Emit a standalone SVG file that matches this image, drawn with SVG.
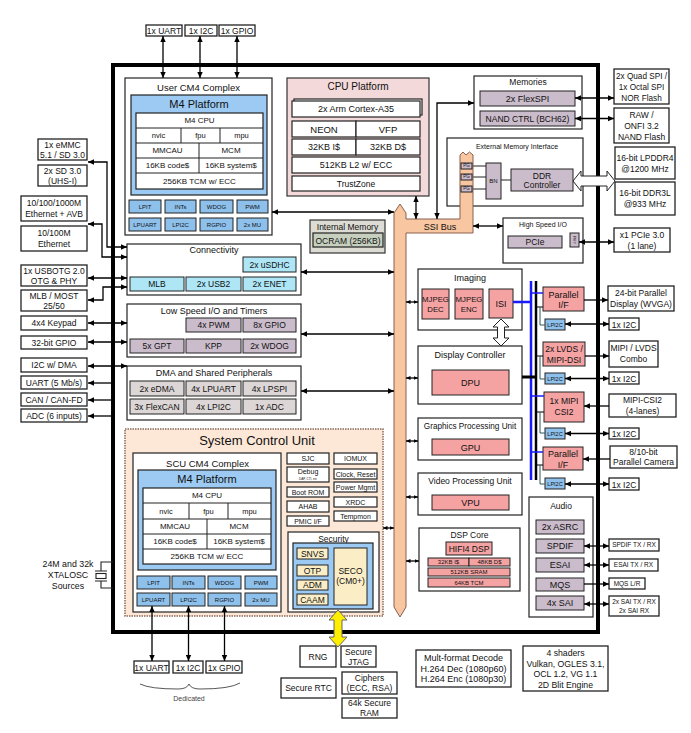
<svg xmlns="http://www.w3.org/2000/svg" width="691" height="733" viewBox="0 0 691 733">
<defs>
<style>
text{font-family:"Liberation Sans",Arial,sans-serif;fill:#111;text-anchor:middle;font-size:8.5px}
.bx{fill:#fff;stroke:#222;stroke-width:1.2}
.ex{fill:#fff;stroke:#222;stroke-width:1.3}
.bl{fill:#9ccaf2;stroke:#222;stroke-width:1.2}
.sb{fill:#8ec0ec;stroke:#222;stroke-width:1}
.cy{fill:#aee6f6;stroke:#222;stroke-width:1}
.mv{fill:#cbbccb;stroke:#222;stroke-width:1}
.gr{fill:#dcd6d6;stroke:#222;stroke-width:1}
.sa{fill:#f5a2a2;stroke:#222;stroke-width:1}
.ye{fill:#fbeec6;stroke:#222;stroke-width:1}
.ln{stroke:#222;stroke-width:1}
.f3{font-size:3px}.f5{font-size:5.5px}.f6{font-size:6px}.f65{font-size:6.5px}.f7{font-size:7px}.f75{font-size:7.5px}.f8{font-size:8px}.f9{font-size:9px}.f95{font-size:9.5px}.f10{font-size:10px}.f11{font-size:11px}.f13{font-size:13px}
.c line,.c polyline{fill:none;stroke:#000;stroke-width:1.3}
.d{marker-start:url(#ah);marker-end:url(#ah)}
.e{marker-end:url(#ah)}
.st{marker-start:url(#ah)}
.ds{marker-start:url(#as);marker-end:url(#as)}
</style>
<marker id="ah" viewBox="0 0 10 10" refX="10" refY="5" markerWidth="6" markerHeight="6" markerUnits="userSpaceOnUse" orient="auto-start-reverse"><path d="M0,0.5 L10,5 L0,9.5 Z" fill="#000"/></marker>
<marker id="as" viewBox="0 0 10 10" refX="10" refY="5" markerWidth="4.5" markerHeight="4.5" markerUnits="userSpaceOnUse" orient="auto-start-reverse"><path d="M0,0.5 L10,5 L0,9.5 Z" fill="#000"/></marker>
</defs>
<rect width="691" height="733" fill="#fff"/>

<g id="chip"><rect x="113" y="65" width="485" height="567" fill="none" stroke="#000" stroke-width="4"/></g>

<!-- top external -->
<g id="ext-top-uart"><rect class="ex" x="146" y="25" width="36" height="11"/><text x="164" y="33.5">1x UART</text></g>
<g id="ext-top-i2c"><rect class="ex" x="185" y="25" width="32" height="11"/><text x="201" y="33.5">1x I2C</text></g>
<g id="ext-top-gpio"><rect class="ex" x="219" y="25" width="36" height="11"/><text x="237" y="33.5">1x GPIO</text></g>

<!-- User CM4 -->
<g id="user-cm4">
<rect class="bx" x="125" y="78" width="147" height="157"/>
<text class="f95" x="198.5" y="90.5">User CM4 Complex</text>
<rect class="bl" x="131" y="95" width="136" height="100"/>
<text class="f11" x="199" y="108">M4 Platform</text>
<rect class="bx" x="136" y="113" width="127" height="76"/>
<path class="ln" d="M136,128H263M136,143H263M136,158H263M136,173H263M181,128V143M220,128V143M199,143V173" fill="none"/>
<text class="f8" x="199.5" y="123.3">M4 CPU</text>
<text class="f75" x="158.5" y="138.3">nvic</text><text class="f75" x="200.5" y="138.3">fpu</text><text class="f75" x="241.5" y="138.3">mpu</text>
<text class="f8" x="167.5" y="153.3">MMCAU</text><text class="f8" x="231" y="153.3">MCM</text>
<text class="f8" x="167.5" y="168.3">16KB code$</text><text class="f8" x="231" y="168.3">16KB system$</text>
<text class="f8" x="199.5" y="183.8">256KB TCM w/ ECC</text>
<rect class="sb" x="129" y="200" width="32" height="13"/><text class="f6" x="145" y="208.6">LPIT</text>
<rect class="sb" x="165" y="200" width="31" height="13"/><text class="f6" x="180.5" y="208.6">INTs</text>
<rect class="sb" x="200" y="200" width="33" height="13"/><text class="f6" x="216.5" y="208.6">WDOG</text>
<rect class="sb" x="237" y="200" width="31" height="13"/><text class="f6" x="252.5" y="208.6">PWM</text>
<rect class="sb" x="129" y="218" width="32" height="13"/><text class="f6" x="145" y="226.6">LPUART</text>
<rect class="sb" x="165" y="218" width="31" height="13"/><text class="f6" x="180.5" y="226.6">LPI2C</text>
<rect class="sb" x="200" y="218" width="33" height="13"/><text class="f6" x="216.5" y="226.6">RGPIO</text>
<rect class="sb" x="237" y="218" width="31" height="13"/><text class="f6" x="252.5" y="226.6">2x MU</text>
</g>

<!-- CPU Platform -->
<g id="cpu-platform">
<rect x="287" y="78" width="142" height="118" fill="#f3d9d9" stroke="#333" stroke-width="1.2"/>
<text class="f10" x="358" y="90">CPU Platform</text>
<rect class="bx" x="294" y="99" width="128" height="16"/>
<rect class="bx" x="292" y="101" width="128" height="16"/>
<text class="f9" x="356" y="112">2x Arm Cortex-A35</text>
<rect class="bx" x="292" y="121" width="64" height="16"/><rect class="bx" x="356" y="121" width="64" height="16"/>
<text class="f95" x="324" y="132.5">NEON</text><text class="f95" x="388" y="132.5">VFP</text>
<rect class="bx" x="292" y="139" width="64" height="16"/><rect class="bx" x="356" y="139" width="64" height="16"/>
<text class="f9" x="324" y="150">32KB I$</text><text class="f9" x="388" y="150">32KB D$</text>
<rect class="bx" x="292" y="157" width="128" height="16"/><text class="f9" x="356" y="168">512KB L2 w/ ECC</text>
<rect class="bx" x="292" y="176" width="128" height="15"/><text x="356" y="186.5">TrustZone</text>
</g>

<!-- Memories -->
<g id="memories">
<rect class="bx" x="474" y="76" width="108" height="53"/>
<text x="528" y="85">Memories</text>
<rect class="mv" x="480" y="91" width="95" height="15"/><text class="f9" x="527.5" y="101.5">2x FlexSPI</text>
<rect class="mv" x="480" y="111" width="95" height="15"/><text x="527.5" y="121.5">NAND CTRL (BCH62)</text>
</g>

<!-- right external memory -->
<g id="ext-nor"><rect class="ex" x="614" y="69" width="55" height="35"/><text style="font-size:8.2px" x="641.5" y="78.5">2x Quad SPI /</text><text style="font-size:8.2px" x="641.5" y="89.5">1x Octal SPI</text><text style="font-size:8.2px" x="641.5" y="100.5">NOR Flash</text></g>
<g id="ext-nand"><rect class="ex" x="614" y="108" width="55" height="35"/><text x="641.5" y="117.5">RAW /</text><text x="641.5" y="128.5">ONFI 3.2</text><text x="641.5" y="139.5">NAND Flash</text></g>
<g id="ext-lpddr4"><rect class="ex" x="615" y="147" width="60" height="32"/><text x="645" y="160.5">16-bit LPDDR4</text><text x="645" y="171.5">@1200 MHz</text></g>
<g id="ext-ddr3l"><rect class="ex" x="615" y="182" width="60" height="33"/><text x="645" y="196">16-bit DDR3L</text><text x="645" y="207">@933 MHz</text></g>
<g id="ext-pcie"><rect class="ex" x="614" y="228" width="56" height="24"/><text x="642" y="237.5">x1 PCIe 3.0</text><text x="642" y="248.5">(1 lane)</text></g>

<!-- External Memory Interface -->
<g id="emi">
<rect class="bx" x="447" y="138" width="136" height="68"/>
<text class="f7" x="517" y="148.5">External Memory Interface</text>
<rect class="mv" x="486" y="163" width="15" height="36"/><text class="f6" x="493.5" y="183">BN</text>
<rect class="mv" x="511" y="169" width="62" height="22"/><text x="542" y="178.5">DDR</text><text x="542" y="188">Controller</text>
<path class="ln" d="M472,166H486M472,177H486M472,189H486M501,180H511" fill="none"/>
</g>

<!-- SSI bus -->
<g id="ssi-bus">
<path d="M394,213 L400,204 L406,213 L406,219 L460,219 L460,155 L463,152 L466,155 L469.5,152 L473,155 L473,233 L406,233 L406,607 L400,617 L394,607 Z" fill="#f8c6a0" stroke="#8a6050" stroke-width="1"/>
<text class="f9" x="440" y="229.5">SSI Bus</text>
<rect class="mv" x="461" y="163" width="11" height="6"/><text class="f3" x="466.5" y="167.2" style="font-size:4.5px">PG</text>
<rect class="mv" x="461" y="174" width="11" height="6"/><text x="466.5" y="178.2" style="font-size:4.5px">PG</text>
<rect class="mv" x="461" y="186" width="11" height="6"/><text x="466.5" y="190.2" style="font-size:4.5px">PG</text>
</g>

<!-- High speed IO -->
<g id="hsio">
<rect class="bx" x="503" y="218" width="80" height="45"/>
<text class="f7" x="543" y="226.5">High Speed I/O</text>
<rect class="mv" x="508" y="236" width="54" height="12"/><text x="535" y="245">PCIe</text>
<rect class="mv" x="570" y="233" width="9" height="14"/><text transform="translate(573.2,240) rotate(90)" style="font-size:4px">PHY</text>
</g>

<!-- Internal memory -->
<g id="internal-memory">
<rect x="310" y="220" width="75" height="33" fill="#dcdcd4" stroke="#333" stroke-width="1.2"/>
<text x="347.5" y="230">Internal Memory</text>
<rect x="313" y="233" width="70" height="14" fill="#c7d0bf" stroke="#222" stroke-width="1.2"/>
<text x="348" y="243.5">OCRAM (256KB)</text>
</g>

<!-- left external -->
<g id="ext-emmc"><rect class="ex" x="38" y="139" width="49" height="21"/><text x="62.5" y="147.5">1x eMMC</text><text x="62.5" y="157.5">5.1 / SD 3.0</text></g>
<g id="ext-sd"><rect class="ex" x="38" y="165" width="49" height="21"/><text x="62.5" y="173.5">2x SD 3.0</text><text x="62.5" y="183.5">(UHS-I)</text></g>
<g id="ext-eth-avb"><rect class="ex" x="21" y="196" width="66" height="25"/><text x="54" y="205.5">10/100/1000M</text><text x="54" y="217">Ethernet + AVB</text></g>
<g id="ext-eth"><rect class="ex" x="21" y="226" width="66" height="25"/><text x="54" y="235.5">10/100M</text><text x="54" y="247">Ethernet</text></g>
<g id="ext-usb"><rect class="ex" x="21" y="265" width="66" height="21"/><text x="54" y="273.5">1x USBOTG 2.0</text><text x="54" y="283.5">OTG &amp; PHY</text></g>
<g id="ext-mlb"><rect class="ex" x="21" y="290" width="66" height="21"/><text x="54" y="298.5">MLB / MOST</text><text x="54" y="308.5">25/50</text></g>
<g id="ext-keypad"><rect class="ex" x="21" y="316" width="66" height="14"/><text x="54" y="326">4x4 Keypad</text></g>
<g id="ext-gpio"><rect class="ex" x="21" y="336" width="66" height="13"/><text x="54" y="345.5">32-bit GPIO</text></g>
<g id="ext-i2c"><rect class="ex" x="21" y="358" width="66" height="14"/><text x="54" y="368">I2C w/ DMA</text></g>
<g id="ext-uart"><rect class="ex" x="21" y="376" width="66" height="13"/><text x="54" y="385.5">UART (5 Mb/s)</text></g>
<g id="ext-can"><rect class="ex" x="21" y="393" width="66" height="13"/><text x="54" y="402.5">CAN / CAN-FD</text></g>
<g id="ext-adc"><rect class="ex" x="21" y="409" width="66" height="13"/><text x="54" y="418.5">ADC (6 inputs)</text></g>

<!-- Connectivity -->
<g id="connectivity">
<rect class="bx" x="127" y="244" width="174" height="51"/>
<text class="f9" x="214" y="252.5">Connectivity</text>
<rect class="cy" x="243" y="257" width="53" height="15"/><text x="269.5" y="267.5">2x uSDHC</text>
<rect class="cy" x="130" y="277" width="54" height="14"/><text x="157" y="287">MLB</text>
<rect class="cy" x="186" y="277" width="55" height="14"/><text x="213.5" y="287">2x USB2</text>
<rect class="cy" x="243" y="277" width="53" height="14"/><text x="269.5" y="287">2x ENET</text>
</g>

<!-- Low speed -->
<g id="low-speed">
<rect class="bx" x="127" y="304" width="174" height="53"/>
<text class="f9" x="214" y="313.5">Low Speed I/O and Timers</text>
<rect class="mv" x="186" y="318" width="55" height="14"/><text x="213.5" y="328">4x PWM</text>
<rect class="mv" x="243" y="318" width="53" height="14"/><text x="269.5" y="328">8x GPIO</text>
<rect class="mv" x="130" y="339" width="54" height="14"/><text x="157" y="349">5x GPT</text>
<rect class="mv" x="186" y="339" width="55" height="14"/><text x="213.5" y="349">KPP</text>
<rect class="mv" x="243" y="339" width="53" height="14"/><text x="269.5" y="349">2x WDOG</text>
</g>

<!-- DMA -->
<g id="dma-shared">
<rect class="bx" x="127" y="366" width="174" height="54"/>
<text class="f9" x="214" y="376">DMA and Shared Peripherals</text>
<rect class="gr" x="130" y="381" width="54" height="15"/><text x="157" y="391.5">2x eDMA</text>
<rect class="gr" x="186" y="381" width="55" height="15"/><text x="213.5" y="391.5">4x LPUART</text>
<rect class="gr" x="243" y="381" width="53" height="15"/><text x="269.5" y="391.5">4x LPSPI</text>
<rect class="gr" x="130" y="399" width="54" height="15"/><text x="157" y="409.5">3x FlexCAN</text>
<rect class="gr" x="186" y="399" width="55" height="15"/><text x="213.5" y="409.5">4x LPI2C</text>
<rect class="gr" x="243" y="399" width="53" height="15"/><text x="269.5" y="409.5">1x ADC</text>
</g>

<!-- SCU -->
<g id="scu">
<rect x="125" y="429" width="258" height="187" fill="#fde8d8" stroke="#8a6a5a" stroke-width="1.5" stroke-dasharray="1.5,1"/>
<text class="f13" x="257" y="444.5">System Control Unit</text>
</g>
<g id="scu-cm4">
<rect class="bx" x="133" y="453" width="148" height="159"/>
<text class="f95" x="207.5" y="466.5">SCU CM4 Complex</text>
<rect class="bl" x="138" y="470" width="138" height="100"/>
<text class="f11" x="207" y="483">M4 Platform</text>
<rect class="bx" x="143" y="488" width="128" height="76"/>
<path class="ln" d="M143,503H271M143,519H271M143,534H271M143,549H271M189,503V519M228,503V519M207,519V549" fill="none"/>
<text class="f8" x="207" y="498.3">M4 CPU</text>
<text class="f75" x="166" y="513.8">nvic</text><text class="f75" x="208.5" y="513.8">fpu</text><text class="f75" x="249.5" y="513.8">mpu</text>
<text class="f8" x="175" y="529.3">MMCAU</text><text class="f8" x="239" y="529.3">MCM</text>
<text class="f8" x="175" y="544.3">16KB code$</text><text class="f8" x="239" y="544.3">16KB system$</text>
<text class="f8" x="207" y="559.3">256KB TCM w/ ECC</text>
<rect class="sb" x="137" y="576" width="33" height="13"/><text class="f6" x="153.5" y="584.6">LPIT</text>
<rect class="sb" x="172" y="576" width="33" height="13"/><text class="f6" x="188.5" y="584.6">INTs</text>
<rect class="sb" x="208" y="576" width="33" height="13"/><text class="f6" x="224.5" y="584.6">WDOG</text>
<rect class="sb" x="245" y="576" width="32" height="13"/><text class="f6" x="261" y="584.6">PWM</text>
<rect class="sb" x="137" y="593" width="33" height="13"/><text class="f6" x="153.5" y="601.6">LPUART</text>
<rect class="sb" x="172" y="593" width="33" height="13"/><text class="f6" x="188.5" y="601.6">LPI2C</text>
<rect class="sb" x="208" y="593" width="33" height="13"/><text class="f6" x="224.5" y="601.6">RGPIO</text>
<rect class="sb" x="245" y="593" width="32" height="13"/><text class="f6" x="261" y="601.6">2x MU</text>
</g>
<g id="scu-misc">
<rect class="bx" x="287" y="453" width="42" height="11"/><text class="f7" x="308" y="461">SJC</text>
<rect class="bx" x="287" y="467" width="42" height="15"/><text class="f7" x="308" y="474">Debug</text><text class="f3" x="308" y="479.5">DAP, CTI, etc</text>
<rect class="bx" x="287" y="487" width="42" height="10"/><text class="f7" x="308" y="494.5">Boot ROM</text>
<rect class="bx" x="287" y="501" width="42" height="11"/><text class="f7" x="308" y="509">AHAB</text>
<rect class="bx" x="287" y="516" width="42" height="10"/><text class="f7" x="308" y="523.5">PMIC I/F</text>
<rect class="bx" x="334" y="453" width="43" height="11"/><text class="f7" x="355.5" y="461">IOMUX</text>
<rect class="bx" x="334" y="469" width="43" height="10"/><text class="f7" x="355.5" y="476.5">Clock, Reset</text>
<rect class="bx" x="334" y="482" width="43" height="10"/><text class="f7" x="355.5" y="489.5">Power Mgmt</text>
<rect class="bx" x="334" y="497" width="43" height="10"/><text class="f7" x="355.5" y="504.5">XRDC</text>
<rect class="bx" x="334" y="511" width="43" height="10"/><text class="f7" x="355.5" y="518.5">Tempmon</text>
</g>
<g id="security">
<rect class="bx" x="288" y="532" width="91" height="80"/>
<text x="333.5" y="542">Security</text>
<rect class="bl" x="293" y="543" width="80" height="66"/>
<rect class="ye" x="297" y="548" width="31" height="11"/><text x="312.5" y="556.5">SNVS</text>
<rect class="ye" x="297" y="565" width="31" height="11"/><text x="312.5" y="573.5">OTP</text>
<rect class="ye" x="297" y="580" width="31" height="10"/><text x="312.5" y="588">ADM</text>
<rect class="ye" x="297" y="594" width="31" height="11"/><text x="312.5" y="602.5">CAAM</text>
<rect class="ye" x="334" y="548" width="33" height="57"/><text x="350.5" y="574">SECO</text><text x="350.5" y="584">(CM0+)</text>
</g>

<!-- XTAL -->
<g id="xtal">
<text style="font-size:8.8px" x="68" y="567">24M and 32k</text>
<text style="font-size:8.8px" x="68" y="578">XTALOSC</text>
<text style="font-size:8.8px" x="68" y="589">Sources</text>
<path d="M113,562H101V571M95,571H107M95,581H107M101,581V588H113" fill="none" stroke="#222" stroke-width="1.1"/>
<rect x="96" y="573.5" width="10" height="5" fill="#fff" stroke="#222" stroke-width="1.1"/>
</g>

<!-- bottom dedicated -->
<g id="ext-bot-uart"><rect class="ex" x="134" y="661" width="35" height="12"/><text x="151.5" y="670.5">1x UART</text></g>
<g id="ext-bot-i2c"><rect class="ex" x="173" y="661" width="30" height="12"/><text x="188" y="670.5">1x I2C</text></g>
<g id="ext-bot-gpio"><rect class="ex" x="206" y="661" width="36" height="12"/><text x="224" y="670.5">1x GPIO</text></g>
<g id="dedicated">
<path d="M140,684 Q150,689 178,689 Q187,689 189,684 Q191,689 200,689 Q230,689 240,683" fill="none" stroke="#444" stroke-width="0.9"/>
<text class="f7" x="189" y="701" style="fill:#444">Dedicated</text>
</g>

<!-- security externals -->
<g id="rng"><rect class="ex" x="300" y="646" width="36" height="21"/><text x="318" y="659.5">RNG</text></g>
<g id="secure-jtag"><rect class="ex" x="341" y="646" width="35" height="21"/><text x="358.5" y="654.5">Secure</text><text x="358.5" y="664.5">JTAG</text></g>
<g id="secure-rtc"><rect class="ex" x="281" y="678" width="55" height="20"/><text x="308.5" y="691">Secure RTC</text></g>
<g id="ciphers"><rect class="ex" x="342" y="672" width="55" height="22"/><text x="369.5" y="680.5">Ciphers</text><text x="369.5" y="691">(ECC, RSA)</text></g>
<g id="secure-ram"><rect class="ex" x="342" y="698" width="55" height="20"/><text x="369.5" y="706">64k Secure</text><text x="369.5" y="716">RAM</text></g>

<g id="vpu-note"><rect class="ex" x="416" y="650" width="95" height="37"/><text class="f9" x="463.5" y="661">Mult-format Decode</text><text class="f9" x="463.5" y="671.5">H.264 Dec (1080p60)</text><text class="f9" x="463.5" y="682">H.264 Enc (1080p30)</text></g>
<g id="gpu-note"><rect class="ex" x="523" y="646" width="85" height="45"/><text style="font-size:8.7px" x="565.5" y="656">4 shaders</text><text style="font-size:8.7px" x="565.5" y="667">Vulkan, OGLES 3.1,</text><text style="font-size:8.7px" x="565.5" y="677">OCL 1.2, VG 1.1</text><text style="font-size:8.7px" x="565.5" y="688">2D Blit Engine</text></g>

<!-- Imaging -->
<g id="imaging">
<rect class="bx" x="418" y="269" width="104" height="61"/>
<text class="f9" x="470" y="281">Imaging</text>
<rect class="sa" x="422" y="289" width="27" height="30"/><text style="font-size:7.8px" x="435.5" y="301.5">MJPEG</text><text style="font-size:7.8px" x="435.5" y="312">DEC</text>
<rect class="sa" x="455" y="289" width="28" height="30"/><text style="font-size:7.8px" x="469" y="301.5">MJPEG</text><text style="font-size:7.8px" x="469" y="312">ENC</text>
<rect class="sa" x="489" y="289" width="24" height="29"/><text class="f9" x="501" y="306.5">ISI</text>
</g>
<g id="display-controller">
<rect class="bx" x="418" y="346" width="104" height="58"/>
<text class="f9" x="470" y="357.5">Display Controller</text>
<rect class="sa" x="432" y="370" width="77" height="25"/><text class="f9" x="470.5" y="385.5">DPU</text>
</g>
<g id="gpu">
<rect class="bx" x="418" y="418" width="104" height="42"/>
<text style="font-size:8.2px" x="470" y="428.5">Graphics Processing Unit</text>
<rect class="sa" x="432" y="439" width="77" height="16"/><text class="f9" x="470.5" y="450.5">GPU</text>
</g>
<g id="vpu">
<rect class="bx" x="418" y="473" width="104" height="42"/>
<text x="470" y="483.5">Video Processing Unit</text>
<rect class="sa" x="432" y="495" width="77" height="15"/><text class="f9" x="470.5" y="506">VPU</text>
</g>
<g id="dsp">
<rect class="bx" x="419" y="528" width="101" height="63"/>
<text x="469.5" y="537.5">DSP Core</text>
<rect class="sa" x="446" y="542" width="46" height="13"/><text x="469" y="551.5">HIFI4 DSP</text>
<rect class="sa" x="428" y="558" width="41" height="8"/><text class="f6" x="448.5" y="564.3">32KB I$</text>
<rect class="sa" x="469" y="558" width="41" height="8"/><text class="f6" x="489.5" y="564.3">48KB D$</text>
<rect class="sa" x="428" y="568" width="82" height="8"/><text class="f6" x="469" y="574.3">512KB SRAM</text>
<rect class="sa" x="428" y="578" width="82" height="9"/><text class="f6" x="469" y="584.8">64KB TCM</text>
</g>

<!-- display/camera interfaces -->
<g id="par-if-out"><rect class="sa" x="543" y="287" width="41" height="24"/><text class="f9" x="563.5" y="297.5">Parallel</text><text class="f9" x="563.5" y="308">I/F</text></g>
<g id="lpi2c-1"><rect class="sb" x="545" y="319" width="20" height="11"/><text class="f5" x="555" y="326.5">LPI2C</text></g>
<g id="lvds-dsi"><rect class="sa" x="543" y="342" width="42" height="24"/><text x="564" y="352">2x LVDS /</text><text x="564" y="362.5">MIPI-DSI</text></g>
<g id="lpi2c-2"><rect class="sb" x="545" y="373" width="20" height="11"/><text class="f5" x="555" y="380.5">LPI2C</text></g>
<g id="mipi-csi2"><rect class="sa" x="544" y="392" width="40" height="30"/><text x="564" y="404">1x MIPI</text><text x="564" y="415">CSI2</text></g>
<g id="lpi2c-3"><rect class="sb" x="545" y="428" width="20" height="11"/><text class="f5" x="555" y="435.5">LPI2C</text></g>
<g id="par-if-in"><rect class="sa" x="543" y="447" width="40" height="23"/><text class="f9" x="563" y="457">Parallel</text><text class="f9" x="563" y="467.5">I/F</text></g>
<g id="lpi2c-4"><rect class="sb" x="545" y="478" width="20" height="11"/><text class="f5" x="555" y="485.5">LPI2C</text></g>

<g id="ext-par-disp"><rect class="ex" x="608" y="286" width="66" height="25"/><text x="641" y="295.5">24-bit Parallel</text><text x="641" y="306.5">Display (WVGA)</text></g>
<g id="ext-i2c-1"><rect class="ex" x="609" y="318" width="30" height="12"/><text x="624" y="327.5">1x I2C</text></g>
<g id="ext-lvds"><rect class="ex" x="609" y="341" width="49" height="26"/><text x="633.5" y="351">MIPI / LVDS</text><text x="633.5" y="362">Combo</text></g>
<g id="ext-i2c-2"><rect class="ex" x="609" y="372" width="30" height="12"/><text x="624" y="381.5">1x I2C</text></g>
<g id="ext-csi2"><rect class="ex" x="609" y="394" width="67" height="23"/><text x="642.5" y="403">MIPI-CSI2</text><text x="642.5" y="413.5">(4-lanes)</text></g>
<g id="ext-i2c-3"><rect class="ex" x="609" y="428" width="30" height="11"/><text x="624" y="436.5">1x I2C</text></g>
<g id="ext-camera"><rect class="ex" x="610" y="446" width="67" height="22"/><text x="643.5" y="454.5">8/10-bit</text><text x="643.5" y="465">Parallel Camera</text></g>
<g id="ext-i2c-4"><rect class="ex" x="609" y="478" width="30" height="12"/><text x="624" y="487.5">1x I2C</text></g>

<!-- Audio -->
<g id="audio">
<rect class="bx" x="529" y="497" width="64" height="120"/>
<text x="561" y="508.5">Audio</text>
<rect class="mv" x="536" y="520" width="48" height="14"/><text class="f9" x="560" y="530.2">2x ASRC</text>
<rect class="mv" x="536" y="539" width="48" height="14"/><text class="f9" x="560" y="549.2">SPDIF</text>
<rect class="mv" x="536" y="558" width="48" height="14"/><text class="f9" x="560" y="568.2">ESAI</text>
<rect class="mv" x="536" y="578" width="48" height="13"/><text class="f9" x="560" y="587.7">MQS</text>
<rect class="mv" x="536" y="596" width="48" height="14"/><text class="f9" x="560" y="606.2">4x SAI</text>
</g>
<g id="ext-spdif"><rect class="ex" x="609" y="539" width="50" height="12"/><text class="f65" x="634" y="547.3">SPDIF TX / RX</text></g>
<g id="ext-esai"><rect class="ex" x="609" y="559" width="49" height="12"/><text class="f65" x="633.5" y="567.3">ESAI TX / RX</text></g>
<g id="ext-mqs"><rect class="ex" x="609" y="578" width="36" height="11"/><text class="f65" x="627" y="585.8">MQS L/R</text></g>
<g id="ext-sai"><rect class="ex" x="609" y="596" width="50" height="20"/><text class="f65" x="634" y="604">2x SAI TX / RX</text><text class="f65" x="634" y="612.5">2x SAI RX</text></g>

<!-- connectors -->
<g id="connectors" class="c">
<line class="d" x1="163" y1="36" x2="163" y2="78"/>
<line class="d" x1="200" y1="36" x2="200" y2="78"/>
<line class="d" x1="237" y1="36" x2="237" y2="78"/>
<line class="d" x1="272" y1="212" x2="394" y2="212"/>
<line class="d" x1="416" y1="196" x2="416" y2="219"/>
<polyline class="d" points="437,219 437,103 474,103"/>
<line class="d" x1="575" y1="98" x2="614" y2="98"/>
<line class="d" x1="575" y1="118.5" x2="614" y2="118.5"/>
<line class="d" x1="473" y1="226" x2="503" y2="226"/>
<line class="d" x1="579" y1="242" x2="614" y2="242"/>
<path d="M573,181 L581,171 L581,176 L607,176 L607,171 L615,181 L607,191 L607,186 L581,186 L581,191 Z" fill="#fff" stroke="#222" stroke-width="1"/>
<polyline class="d" points="88,162 107,162 107,247 127,247"/>
<polyline class="d" points="88,224 102,224 102,257 127,257"/>
<line class="d" x1="88" y1="278" x2="127" y2="278"/>
<polyline class="d" points="88,300 103,300 103,287 127,287"/>
<line class="d" x1="88" y1="323" x2="127" y2="323"/>
<line class="d" x1="88" y1="342" x2="127" y2="342"/>
<line class="d" x1="88" y1="366" x2="127" y2="366"/>
<line class="st" x1="88" y1="383" x2="113" y2="383"/>
<line class="st" x1="88" y1="400" x2="113" y2="400"/>
<line class="st" x1="88" y1="416" x2="113" y2="416"/>
<line class="d" x1="301" y1="272" x2="394" y2="272"/>
<line class="d" x1="301" y1="334" x2="394" y2="334"/>
<line class="d" x1="301" y1="391" x2="394" y2="391"/>
<line class="ds" x1="383" y1="528" x2="394" y2="528"/>
<line class="ds" x1="406" y1="302" x2="418" y2="302"/>
<line class="ds" x1="406" y1="378" x2="418" y2="378"/>
<line class="ds" x1="406" y1="441" x2="418" y2="441"/>
<line class="ds" x1="406" y1="497" x2="418" y2="497"/>
<line class="ds" x1="406" y1="561" x2="419" y2="561"/>
<line class="d" x1="152" y1="606" x2="152" y2="661"/>
<line class="d" x1="188.5" y1="606" x2="188.5" y2="661"/>
<line class="d" x1="224.5" y1="606" x2="224.5" y2="661"/>
<path d="M338,610 L347,620 L342,620 L342,637 L347,637 L338,647 L329,637 L334,637 L334,620 L329,620 Z" fill="#ffee00" stroke="#666" stroke-width="1"/>
<path d="M501,319 L509,327 L504.5,327 L504.5,338 L509,338 L501,346 L493,338 L497.5,338 L497.5,327 L493,327 Z" fill="#fff" stroke="#222" stroke-width="1"/>
<line x1="531" y1="281" x2="531" y2="480" style="stroke:#1a1aff;stroke-width:2.5"/>
<line x1="536" y1="281" x2="536" y2="480" style="stroke:#000;stroke-width:2.5"/>
<line x1="513" y1="302" x2="531" y2="302" style="stroke:#1a1aff;stroke-width:2.5"/>
<line x1="522" y1="377" x2="536" y2="377" style="stroke:#000;stroke-width:3"/>
<line x1="531" y1="293" x2="543" y2="293" style="stroke:#1a1aff;stroke-width:1.5"/>
<line x1="531" y1="396" x2="544" y2="396" style="stroke:#1a1aff;stroke-width:1.5"/>
<line x1="531" y1="452" x2="543" y2="452" style="stroke:#1a1aff;stroke-width:1.5"/>
<line x1="536" y1="307" x2="543" y2="307" style="stroke-width:1"/>
<polyline points="540,307 540,325 545,325" style="stroke:#2a5a5a;stroke-width:1"/>
<line x1="536" y1="356" x2="543" y2="356" style="stroke-width:1"/>
<polyline points="540,356 540,379 545,379" style="stroke:#2a5a5a;stroke-width:1"/>
<line x1="536" y1="412" x2="544" y2="412" style="stroke-width:1"/>
<polyline points="540,412 540,433 545,433" style="stroke:#2a5a5a;stroke-width:1"/>
<line x1="536" y1="465" x2="543" y2="465" style="stroke-width:1"/>
<polyline points="540,465 540,484 545,484" style="stroke:#2a5a5a;stroke-width:1"/>
<line class="e" x1="584" y1="300" x2="608" y2="300"/>
<line class="d" x1="565" y1="324" x2="609" y2="324"/>
<line class="e" x1="585" y1="356" x2="609" y2="356"/>
<line class="d" x1="565" y1="378.5" x2="609" y2="378.5"/>
<line class="e" x1="609" y1="406" x2="584" y2="406"/>
<line class="d" x1="565" y1="433.5" x2="609" y2="433.5"/>
<line class="e" x1="610" y1="459" x2="583" y2="459"/>
<line class="d" x1="565" y1="484" x2="609" y2="484"/>
<line class="d" x1="584" y1="546" x2="609" y2="546"/>
<line class="d" x1="584" y1="565" x2="609" y2="565"/>
<line class="e" x1="584" y1="584" x2="609" y2="584"/>
<line class="d" x1="584" y1="604" x2="609" y2="604"/>
</g>
</svg>
